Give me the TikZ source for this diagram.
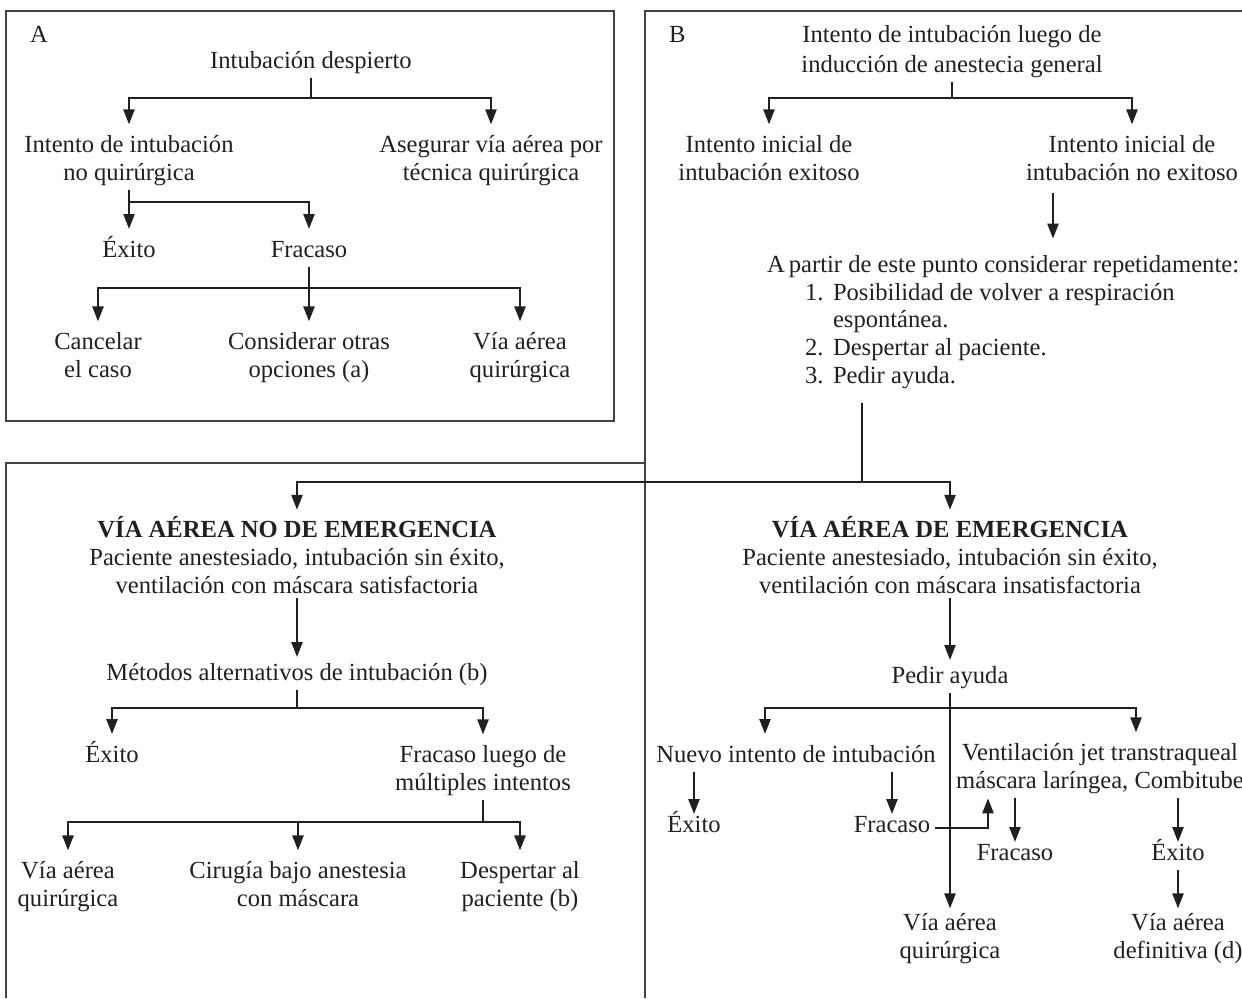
\documentclass[tikz,border=0pt]{standalone}
\usepackage{fontspec}
\setmainfont{Liberation Serif}
\usetikzlibrary{arrows.meta}
\definecolor{ink}{RGB}{35,31,32}

\begin{document}
\begin{tikzpicture}[x=0.5pt,y=-0.5pt,
    font=\fontsize{12.3}{13.8}\selectfont,
    txt/.style={inner sep=0pt,outer sep=2.5pt,text height=11.5pt,align=center,anchor=base,text=ink},
    one/.style={txt,text depth=2.5pt},
    two/.style={txt,text height=25.3pt},
    three/.style={txt,text height=39.1pt},
    ln/.style={draw=ink,line width=1.2pt},
    arr/.style={ln,-{Triangle[length=7.5pt,width=5.5pt]}},
    frame/.style={draw=ink!85,line width=0.8pt}]
  \useasboundingbox (0,0) rectangle (1242,998);

  % frames
  \draw[frame] (6,11) rectangle (614,421);
  \draw[frame] (1242,11) -- (645,11) -- (645,998);
  \draw[frame] (645,463) -- (6,463) -- (6,998);

  % A
  \node[one,anchor=base west] (la) at (25,42) {A};
  \node[one] (ad) at (311,68) {Intubación despierto};
  \node[two] (ni) at (129,180) {Intento de intubación\\no quirúrgica};
  \node[two] (aq) at (491,180) {Asegurar vía aérea por\\técnica quirúrgica};
  \node[one] (ex1) at (129,257) {Éxito};
  \node[one] (fr1) at (309,257) {Fracaso};
  \node[two] (cc) at (98,377) {Cancelar\\el caso};
  \node[two] (co) at (309,377) {Considerar otras\\opciones (a)};
  \node[two] (vq1) at (520,377) {Vía aérea\\quirúrgica};
  \coordinate (ja1) at (311,98);
  \coordinate (ja2) at (129,202);
  \coordinate (ja3) at (309,288);
  \draw[ln] (ad.south) -- (ja1);
  \draw[arr] (ja1) -| (ni.north);
  \draw[arr] (ja1) -| (aq.north);
  \draw[ln] (ni.south) -- (ja2);
  \draw[arr] (ja2) -- (ex1.north);
  \draw[arr] (ja2) -| (fr1.north);
  \draw[arr] (fr1.south) -- (co.north);
  \draw[arr] (ja3) -| (cc.north);
  \draw[arr] (ja3) -| (vq1.north);

  % B
  \node[one,anchor=base west] (lb) at (664,42) {B};
  \node[txt,text height=26.5pt,font=\fontsize{12.3}{15}\selectfont] (ig) at (952,72) {Intento de intubación luego de\\inducción de anestecia general};
  \node[two] (ie) at (769,180) {Intento inicial de\\intubación exitoso};
  \node[two] (ne) at (1132,180) {Intento inicial de\\intubación no exitoso};
  \coordinate (jb1) at (952,98);
  \draw[ln] (ig.south) -- (jb1);
  \draw[arr] (jb1) -| (ie.north);
  \draw[arr] (jb1) -| (ne.north);
  \node[txt,anchor=base west,align=left,text height=69.7pt] (lst) at (762,383)
    {A\kern-1pt\ partir de este punto considerar repetidamente:\\
     \hspace*{19pt}\makebox[14pt][l]{1.}Posibilidad de volver a respiración\\
     \hspace*{33pt}espontánea.\\
     \hspace*{19pt}\makebox[14pt][l]{2.}Despertar al paciente.\\
     \hspace*{19pt}\makebox[14pt][l]{3.}Pedir ayuda.};
  \coordinate (dn) at (1053,238);
  \draw[arr] ([yshift=-4pt]ne.south -| dn) -- (lst.north -| dn);
  \coordinate (bj) at (862,482);
  \draw[ln] ([yshift=-5pt]lst.south -| bj) -- (bj);

  % no emergency branch
  \node[three] (nem) at (297,593) {\textbf{VÍA AÉREA NO DE EMERGENCIA}\\Paciente anestesiado, intubación sin éxito,\\ventilación con máscara satisfactoria};
  \node[one,text height=9pt] (ma) at (297,680) {Métodos alternativos de intubación (b)};
  \node[one] (ex2) at (112,762) {Éxito};
  \node[two] (fm) at (483,790) {Fracaso luego de\\múltiples intentos};
  \node[two] (vq2) at (68,906) {Vía aérea\\quirúrgica};
  \node[two] (cb) at (298,906) {Cirugía bajo anestesia\\con máscara};
  \node[two] (dp) at (520,906) {Despertar al\\paciente (b)};
  \draw[arr] (bj) -| (nem.north);
  \draw[arr] (nem.south) -- (ma.north);
  \coordinate (jc1) at (297,708);
  \draw[ln] (ma.south) -- (jc1);
  \draw[arr] (jc1) -| (ex2.north);
  \draw[arr] (jc1) -| (fm.north);
  \coordinate (jc2) at (483,822);
  \draw[ln] (fm.south) -- (jc2);
  \draw[arr] (jc2) -| (vq2.north);
  \draw[arr] (jc2) -| (cb.north);
  \draw[arr] (jc2) -| (dp.north);

  % emergency branch
  \node[three] (em) at (950,593) {\textbf{VÍA AÉREA DE EMERGENCIA}\\Paciente anestesiado, intubación sin éxito,\\ventilación con máscara insatisfactoria};
  \node[one,text height=9pt] (pa) at (950,683) {Pedir ayuda};
  \node[one] (nu) at (796,762) {Nuevo intento de intubación};
  \node[two] (vj) at (1100,788) {Ventilación jet transtraqueal\\máscara laríngea, Combitube};
  \node[one,text height=6.5pt] (ex3) at (694,832) {Éxito};
  \node[one,text height=6.5pt] (fr2) at (892,832) {Fracaso};
  \node[one,text height=6.5pt] (fr3) at (1015,860) {Fracaso};
  \node[one,text height=6.5pt] (ex4) at (1178,860) {Éxito};
  \node[txt,text height=22.3pt] (vq3) at (950,958) {Vía aérea\\quirúrgica};
  \node[txt,text height=22.3pt] (vd) at (1178,958) {Vía aérea\\definitiva (d)};
  \draw[arr] (bj) -| (em.north);
  \draw[arr] (em.south) -- (pa.north);
  \coordinate (jd) at (950,708);
  \coordinate (jdl) at (765,708);
  \coordinate (jdr) at (1136,708);
  \draw[ln] (pa.south) -- (jd);
  \draw[arr] (jd) -- (jdl) -- (jdl |- nu.north);
  \draw[arr] (jd) -- (jdr) -- (jdr |- vj.north);
  \draw[arr] (jd) -- (vq3.north);
  \draw[arr] (nu.south -| ex3) -- (ex3.north);
  \draw[arr] (nu.south -| fr2) -- (fr2.north);
  \coordinate (ju) at (988,829);
  \draw[arr] (fr2.east) -- (fr2.east -| ju) -- (vj.south -| ju);
  \draw[arr] (vj.south -| fr3) -- (fr3.north);
  \draw[arr] (vj.south -| ex4) -- (ex4.north);
  \draw[arr] (ex4.south) -- (vd.north);
\end{tikzpicture}
\end{document}
